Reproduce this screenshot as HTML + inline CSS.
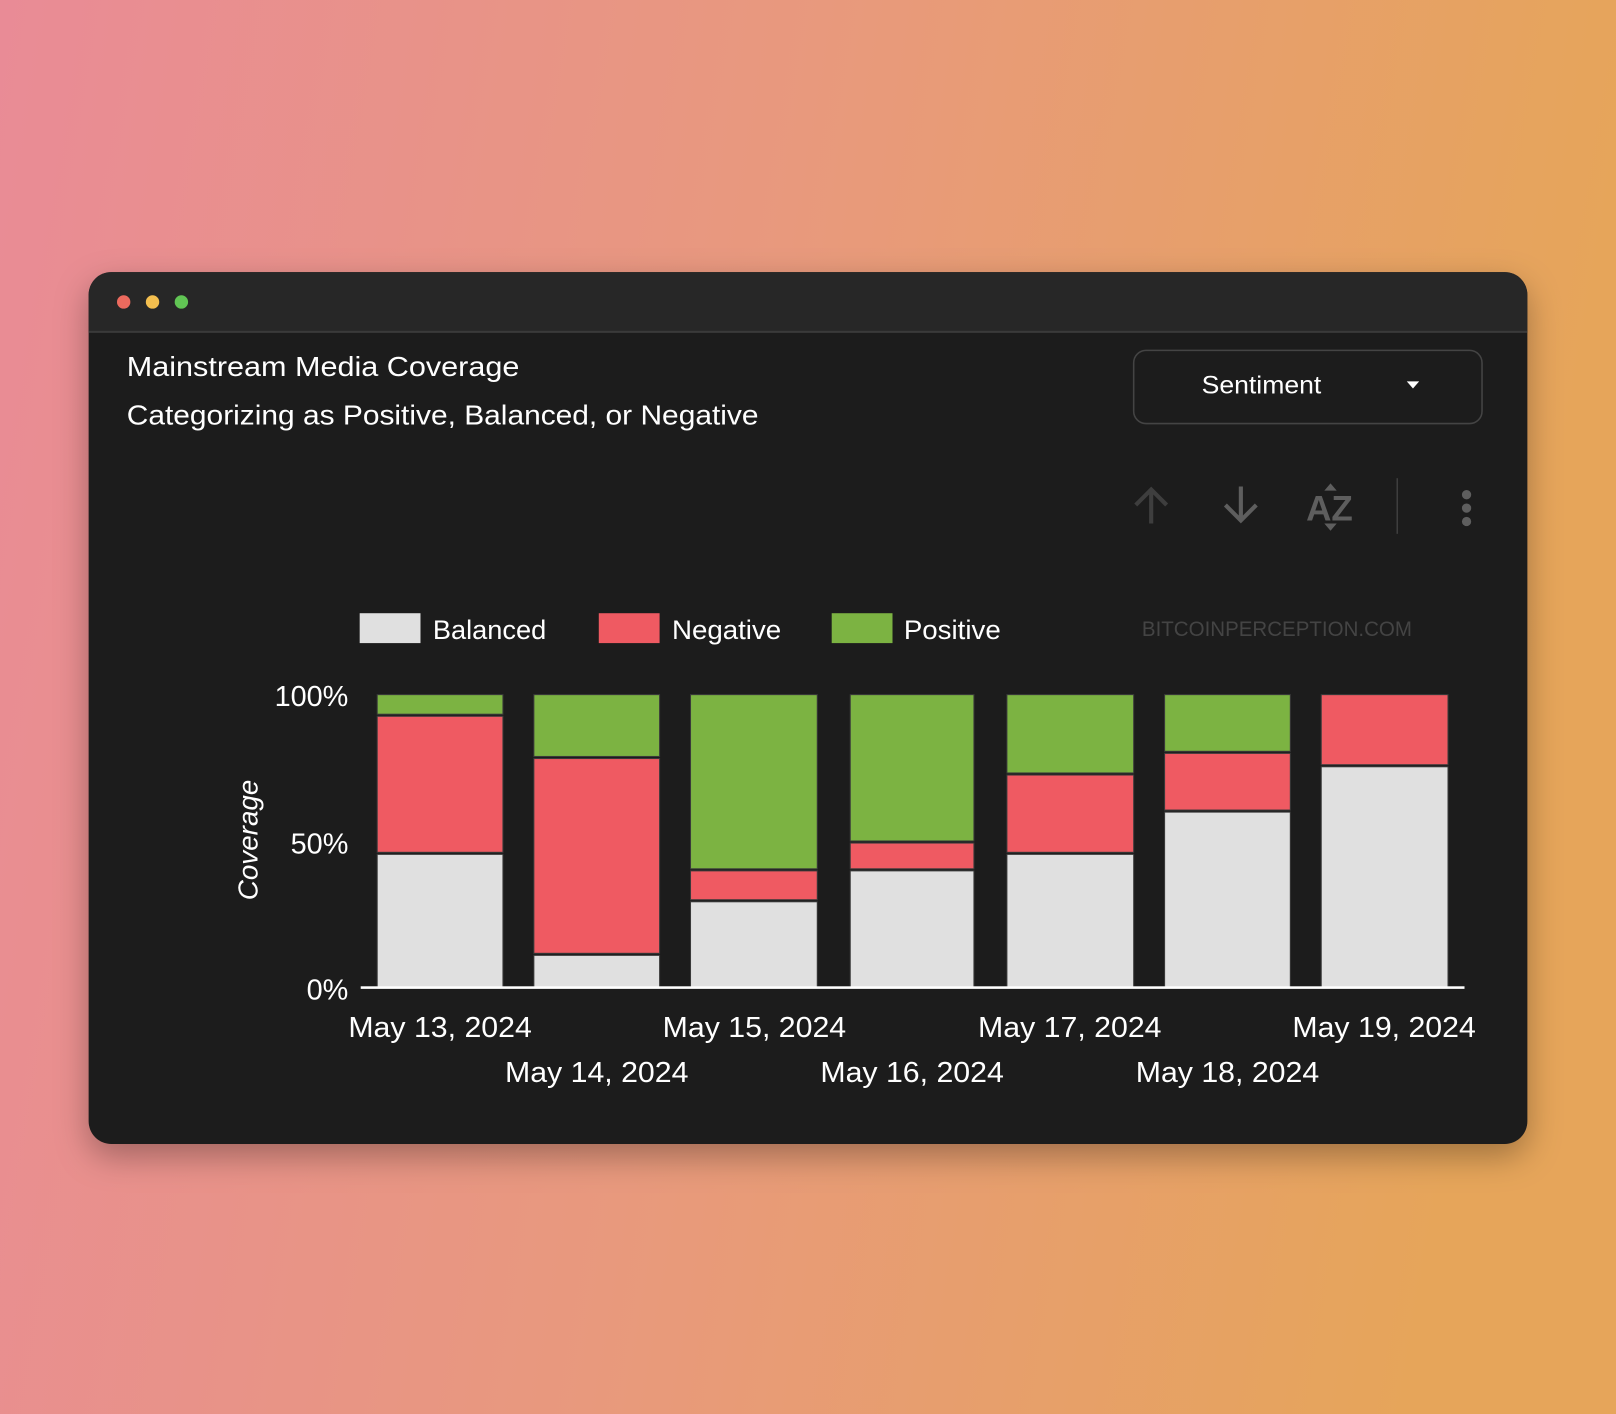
<!DOCTYPE html>
<html><head><meta charset="utf-8"><style>
html,body{margin:0;padding:0;width:1616px;height:1414px;overflow:hidden}
svg{display:block}
text{font-family:"Liberation Sans",sans-serif}
</style></head><body>
<svg width="1616" height="1414" viewBox="0 0 1568 1372" xmlns="http://www.w3.org/2000/svg">
<defs>
<linearGradient id="bg" x1="0" y1="0" x2="1" y2="0.15">
<stop offset="0" stop-color="#e98b96"/><stop offset="0.5" stop-color="#e8997d"/><stop offset="1" stop-color="#e6a55a"/>
</linearGradient>
<filter id="sh" x="-10%" y="-10%" width="120%" height="130%"><feDropShadow dx="0" dy="12" stdDeviation="16" flood-color="#000" flood-opacity="0.3"/></filter>
<clipPath id="win"><rect x="86" y="264" width="1396" height="846" rx="22"/></clipPath>
</defs>
<rect width="1568" height="1372" fill="url(#bg)"/>
<rect x="86" y="264" width="1396" height="846" rx="22" fill="#1c1c1c" filter="url(#sh)"/>
<g clip-path="url(#win)">
<rect x="86" y="264" width="1396" height="58" fill="#272727"/>
<rect x="86" y="321" width="1396" height="2" fill="#3a3a3a"/>
</g>
<circle cx="120" cy="293" r="6.5" fill="#ec6a5e"/>
<circle cx="148" cy="293" r="6.5" fill="#f4bf4f"/>
<circle cx="176" cy="293" r="6.5" fill="#61c554"/>
<text x="123" y="365" font-size="27" fill="#fff" textLength="381" lengthAdjust="spacingAndGlyphs">Mainstream Media Coverage</text>
<text x="123" y="412" font-size="27" fill="#fff" textLength="613" lengthAdjust="spacingAndGlyphs">Categorizing as Positive, Balanced, or Negative</text>
<rect x="1100" y="340" width="338" height="71" rx="12" fill="#1c1c1c" stroke="#444" stroke-width="1.5"/>
<text x="1224" y="382" font-size="24" fill="#fff" text-anchor="middle" textLength="116" lengthAdjust="spacingAndGlyphs">Sentiment</text>
<path d="M1365 370 L1377 370 L1371 377 Z" fill="#fff"/>
<g stroke="#3e3e3e" stroke-width="4" fill="none"><path d="M1117 508 V475 M1102 490 L1117 475 L1132 490"/></g>
<g stroke="#5e5e5e" stroke-width="4" fill="none"><path d="M1204 472 V505 M1189 490 L1204 505 L1219 490"/></g>
<text x="1290" y="505" font-size="34" font-weight="bold" fill="#5e5e5e" text-anchor="middle">AZ</text>
<path d="M1285 476 L1291 469 L1297 476 Z M1285 508 L1291 515 L1297 508 Z" fill="#5e5e5e"/>
<rect x="1355" y="464" width="1.5" height="54" fill="#3e3e3e"/>
<circle cx="1423" cy="480" r="4.5" fill="#5e5e5e"/><circle cx="1423" cy="493" r="4.5" fill="#5e5e5e"/><circle cx="1423" cy="506" r="4.5" fill="#5e5e5e"/>
<rect x="349" y="595" width="59" height="29" fill="#e0e0e0"/>
<text x="420" y="620" font-size="26" fill="#fff" textLength="110" lengthAdjust="spacingAndGlyphs">Balanced</text>
<rect x="581" y="595" width="59" height="29" fill="#ef5a62"/>
<text x="652" y="620" font-size="26" fill="#fff" textLength="106" lengthAdjust="spacingAndGlyphs">Negative</text>
<rect x="807" y="595" width="59" height="29" fill="#7cb342"/>
<text x="877" y="620" font-size="26" fill="#fff" textLength="94" lengthAdjust="spacingAndGlyphs">Positive</text>
<text x="1108" y="617" font-size="21" fill="#444" textLength="262" lengthAdjust="spacingAndGlyphs">BITCOINPERCEPTION.COM</text>
<text x="338" y="685" font-size="28" fill="#fff" text-anchor="end">100%</text>
<text x="338" y="828" font-size="28" fill="#fff" text-anchor="end">50%</text>
<text x="338" y="970" font-size="28" fill="#fff" text-anchor="end">0%</text>
<text transform="translate(250 815) rotate(-90)" font-size="27" font-style="italic" fill="#fff" text-anchor="middle">Coverage</text>
<g stroke="#3a3a3a" stroke-width="1">
<rect x="366" y="674" width="122" height="19" fill="#7cb342"/>
<rect x="366" y="695" width="122" height="132" fill="#ef5a62"/>
<rect x="366" y="829" width="122" height="129" fill="#e0e0e0"/>
<rect x="518" y="674" width="122" height="60" fill="#7cb342"/>
<rect x="518" y="736" width="122" height="189" fill="#ef5a62"/>
<rect x="518" y="927" width="122" height="31" fill="#e0e0e0"/>
<rect x="670" y="674" width="123" height="169" fill="#7cb342"/>
<rect x="670" y="845" width="123" height="28" fill="#ef5a62"/>
<rect x="670" y="875" width="123" height="83" fill="#e0e0e0"/>
<rect x="825" y="674" width="120" height="142" fill="#7cb342"/>
<rect x="825" y="818" width="120" height="25" fill="#ef5a62"/>
<rect x="825" y="845" width="120" height="113" fill="#e0e0e0"/>
<rect x="977" y="674" width="123" height="76" fill="#7cb342"/>
<rect x="977" y="752" width="123" height="75" fill="#ef5a62"/>
<rect x="977" y="829" width="123" height="129" fill="#e0e0e0"/>
<rect x="1130" y="674" width="122" height="55" fill="#7cb342"/>
<rect x="1130" y="731" width="122" height="55" fill="#ef5a62"/>
<rect x="1130" y="788" width="122" height="170" fill="#e0e0e0"/>
<rect x="1282" y="674" width="123" height="68" fill="#ef5a62"/>
<rect x="1282" y="744" width="123" height="214" fill="#e0e0e0"/>
</g>
<rect x="350" y="957" width="1071" height="2.5" fill="#fff"/>
<g font-size="28" fill="#fff" text-anchor="middle">
<text x="427" y="1006" textLength="178" lengthAdjust="spacingAndGlyphs">May 13, 2024</text>
<text x="732" y="1006" textLength="178" lengthAdjust="spacingAndGlyphs">May 15, 2024</text>
<text x="1038" y="1006" textLength="178" lengthAdjust="spacingAndGlyphs">May 17, 2024</text>
<text x="1343" y="1006" textLength="178" lengthAdjust="spacingAndGlyphs">May 19, 2024</text>
<text x="579" y="1050" textLength="178" lengthAdjust="spacingAndGlyphs">May 14, 2024</text>
<text x="885" y="1050" textLength="178" lengthAdjust="spacingAndGlyphs">May 16, 2024</text>
<text x="1191" y="1050" textLength="178" lengthAdjust="spacingAndGlyphs">May 18, 2024</text>
</g>
</svg>
</body></html>
